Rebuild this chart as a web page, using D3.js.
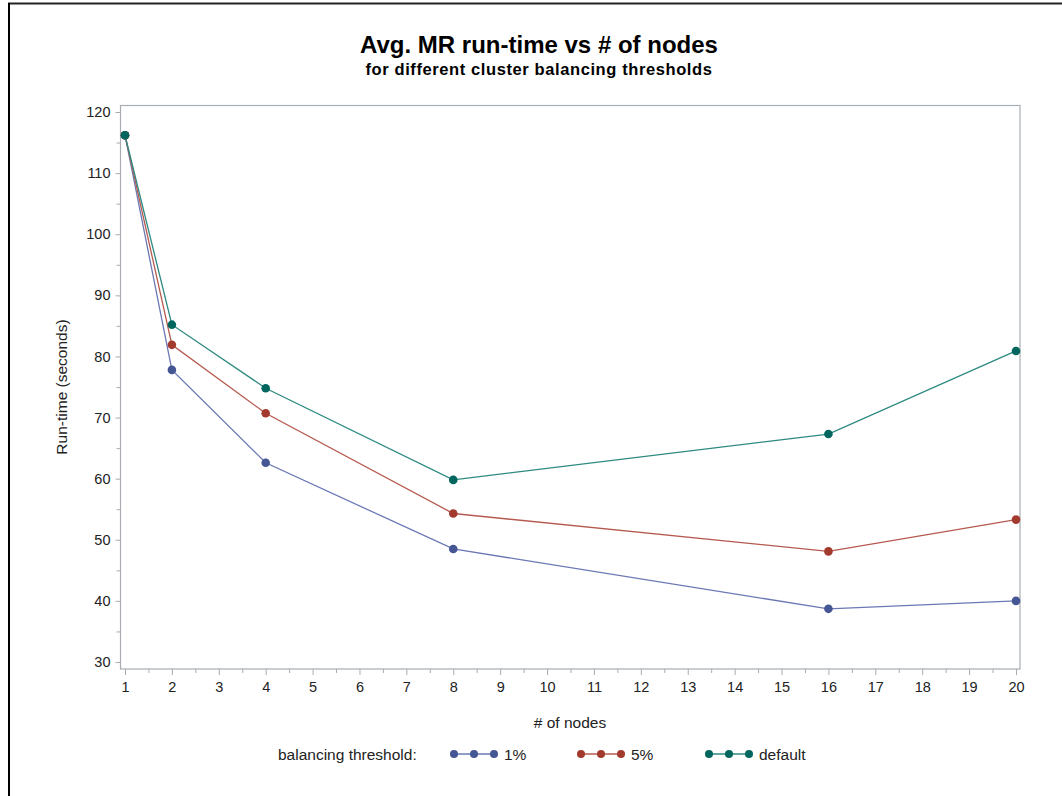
<!DOCTYPE html>
<html><head><meta charset="utf-8">
<script src="https://cdn.jsdelivr.net/npm/d3@7"></script>
<style>body{margin:0;background:#fff}svg{display:block}text{font-family:"Liberation Sans",Arial,sans-serif}</style>
</head><body><svg id="c" width="1062" height="796"></svg>
<script>
const nodes = [1, 2, 4, 8, 16, 20];
const seriesNames = ["1%", "5%", "default"];
const valuesP1 = [116.2, 77.8, 62.6, 48.5, 38.7, 40.0];
const valuesP5 = [116.2, 81.9, 70.7, 54.3, 48.1, 53.3];
const valuesDefault = [116.2, 85.2, 74.8, 59.8, 67.3, 80.9];
const yTicks = [30, 40, 50, 60, 70, 80, 90, 100, 110, 120];
const xTicks = d3.range(1, 21);

const markerColors = ["#445694", "#a23a2e", "#01665e"];
const lineColors = ["#6b78b5", "#b65a4f", "#2d8a80"];
const series = [valuesP1, valuesP5, valuesDefault];

const svg = d3.select("#c");
// outer border
svg.append("line").attr("x1",8).attr("x2",1062).attr("y1",3.5).attr("y2",3.5).attr("stroke","#222").attr("stroke-width",2);
svg.append("line").attr("x1",9).attr("x2",9).attr("y1",3).attr("y2",796).attr("stroke","#000").attr("stroke-width",2);

const L = 120.5, R = 1020, T = 105.5, B = 669;
const x = d3.scaleLinear().domain([1, 20]).range([125, 1016]);
const y = d3.scaleLinear().domain([30, 120]).range([662, 112]);

// title
svg.append("text").attr("x",539).attr("y",53).attr("text-anchor","middle").attr("font-size",24).attr("font-weight","bold").attr("fill","#000").text("Avg. MR run-time vs # of nodes");
svg.append("text").attr("x",539).attr("y",75).attr("text-anchor","middle").attr("font-size",16.5).attr("font-weight","bold").attr("letter-spacing","0.6px").attr("fill","#000").text("for different cluster balancing thresholds");

// frame
svg.append("rect").attr("x",L).attr("y",T).attr("width",R-L).attr("height",B-T).attr("fill","none").attr("stroke","#a8adb3").attr("stroke-width",1.2);

const tickFont = 14.5;
// y axis
const yAxis = d3.axisLeft(y).tickValues(yTicks).tickSize(5).tickPadding(5);
const gy = svg.append("g").attr("transform",`translate(${L},0)`).call(yAxis);
gy.select(".domain").remove();
gy.selectAll(".tick line").attr("stroke","#a8adb3");
gy.selectAll(".tick text").attr("font-size",tickFont).attr("fill","#222").style("font-family","'Liberation Sans',Arial,sans-serif");
const yMinor = d3.axisLeft(y).tickValues(d3.range(35, 120, 10)).tickSize(4).tickFormat("");
const gym = svg.append("g").attr("transform",`translate(${L},0)`).call(yMinor);
gym.select(".domain").remove();
gym.selectAll(".tick line").attr("stroke","#a8adb3");

// x axis
const xAxis = d3.axisBottom(x).tickValues(xTicks).tickSize(6).tickPadding(7).tickFormat(d3.format("d"));
const gx = svg.append("g").attr("transform",`translate(0,${B})`).call(xAxis);
gx.select(".domain").remove();
gx.selectAll(".tick line").attr("stroke","#a8adb3");
gx.selectAll(".tick text").attr("font-size",tickFont).attr("fill","#222").style("font-family","'Liberation Sans',Arial,sans-serif");
const xMinor = d3.axisBottom(x).tickValues(d3.range(1.5, 20, 1)).tickSize(4).tickFormat("");
const gxm = svg.append("g").attr("transform",`translate(0,${B})`).call(xMinor);
gxm.select(".domain").remove();
gxm.selectAll(".tick line").attr("stroke","#a8adb3");

// axis labels
svg.append("text").attr("x",570).attr("y",728).attr("text-anchor","middle").attr("font-size",15.5).attr("fill","#222").text("# of nodes");
svg.append("text").attr("transform","translate(67,387) rotate(-90)").attr("text-anchor","middle").attr("font-size",15.5).attr("fill","#222").text("Run-time (seconds)");

// lines and markers
const line = d3.line().x((d,i)=>x(nodes[i])).y(d=>y(d));
series.forEach((vals, k) => {
  svg.append("path").datum(vals).attr("d", line).attr("fill","none").attr("stroke",lineColors[k]).attr("stroke-width",1.3);
});
series.forEach((vals, k) => {
  svg.append("g").selectAll("circle").data(vals).join("circle")
    .attr("cx",(d,i)=>x(nodes[i])).attr("cy",d=>y(d)).attr("r",4.3).attr("fill",markerColors[k]);
});

// legend
const ly = 754;
svg.append("text").attr("x",278).attr("y",ly+5.5).attr("font-size",15.5).attr("fill","#222").text("balancing threshold:");
const legX = [454, 581, 709];
seriesNames.forEach((name, k) => {
  const g = svg.append("g");
  g.append("line").attr("x1",legX[k]).attr("x2",legX[k]+40).attr("y1",ly).attr("y2",ly).attr("stroke",lineColors[k]).attr("stroke-width",1.3);
  [0,20,40].forEach(o => g.append("circle").attr("cx",legX[k]+o).attr("cy",ly).attr("r",4).attr("fill",markerColors[k]));
  g.append("text").attr("x",legX[k]+50).attr("y",ly+5.5).attr("font-size",15.5).attr("fill","#222").text(name);
});
</script></body></html>
